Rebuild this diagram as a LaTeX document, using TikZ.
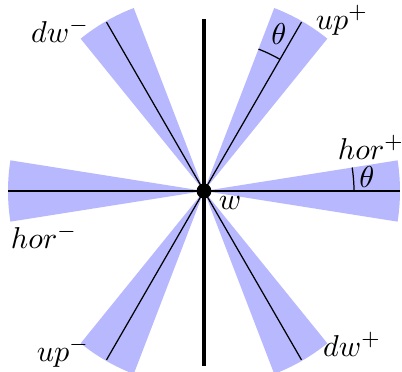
\documentclass[tikz,border=0pt]{standalone}
\usepackage{xcolor}
\usepackage{tikz}

\begin{document}
\begin{tikzpicture}[
  x=0.01276cm, y=0.01276cm,
  wedge/.style={fill=blue!28},
  ray/.style={black, line width=0.45pt},
  axis/.style={black, line width=1.2pt},
  lbl/.style={font=\fontsize{11}{13}\selectfont, inner sep=0pt},
  dot/.style={circle, fill=black, inner sep=0pt, minimum size=5.4pt}
]
\useasboundingbox (-204,-181) rectangle (198,191);

% Wedges
\foreach \a in {0,60,120,180,240,300}
  \fill[wedge] (0,0) -- (\a-9:196) arc[start angle=\a-9, end angle=\a+9, radius=196] -- cycle;

% End points of the rays
\coordinate (o) at (0,0);
\coordinate (e0) at (0:196);
\coordinate (e60) at (60:195);
\coordinate (e120) at (120:195);
\coordinate (e180) at (180:196);
\coordinate (e240) at (240:195);
\coordinate (e300) at (300:195);
\coordinate (top) at (0,172);
\coordinate (bot) at (0,-175);

% Nodes
\node[lbl] (w) at (26,-12) {$w$};
\node[lbl] (upp) at (138,171) {$up^+$};
\node[lbl] (horp) at (167,44) {$hor^+$};
\node[lbl] (dwm) at (-144,161) {$dw^-$};
\node[lbl] (horm) at (-160,-45) {$hor^-$};
\node[lbl] (upm) at (-141,-161) {$up^-$};
\node[lbl] (dwp) at (148,-153) {$dw^+$};
\node[lbl] (tha) at (75,157) {$\theta$};
\node[lbl] (thb) at (163,14) {$\theta$};

% Rays
\draw[ray] (e180) -- (e0);
\draw[ray] (o) -- (e60);
\draw[ray] (o) -- (e120);
\draw[ray] (o) -- (e240);
\draw[ray] (o) -- (e300);
\draw[axis] (top) -- (bot);

% Angles
\draw[ray] (60:152) arc[start angle=60, end angle=69, radius=152];
\draw[ray] (0:150) arc[start angle=0, end angle=9, radius=150];

\node[dot] (wdot) at (o) {};
\end{tikzpicture}
\end{document}
